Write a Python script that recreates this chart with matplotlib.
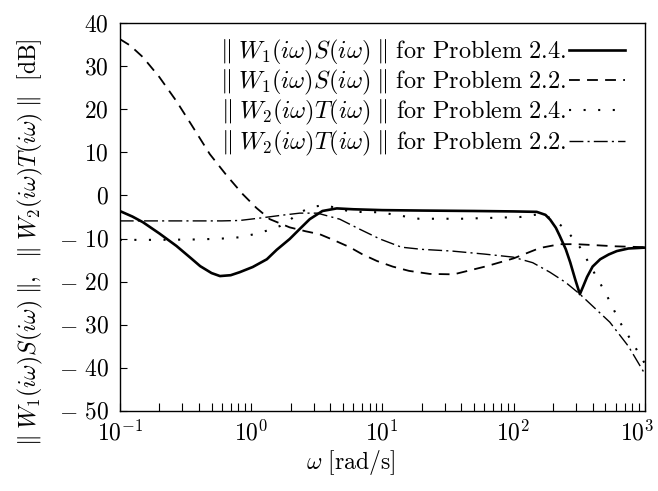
import numpy as np
import matplotlib
matplotlib.use("Agg")
import matplotlib.pyplot as plt
import matplotlib.transforms as mtransforms
from matplotlib.ticker import FuncFormatter, FixedLocator, LogLocator

plt.rcParams['font.family'] = ['Liberation Serif', 'DejaVu Serif']
plt.rcParams['mathtext.fontset'] = 'cm'

# ---- data ----
w_s24 = [0.1, 0.125, 0.15, 0.2, 0.27, 0.35, 0.41, 0.5, 0.58, 0.7, 0.82, 1.03, 1.32, 1.57, 1.97,
         2.4, 2.8, 3.5, 4.5, 6, 10, 20, 50, 100, 150, 175, 190, 210, 225, 250, 270, 295, 320,
         340, 363, 400, 457, 530, 612, 750, 1000]
db_s24 = [-3.6, -4.9, -6.2, -8.8, -11.7, -14.6, -16.4, -18.0, -18.7, -18.5, -17.8, -16.6, -14.8,
          -12.6, -10.1, -7.5, -5.5, -3.6, -3.0, -3.2, -3.4, -3.5, -3.6, -3.7, -3.8, -4.5, -5.6,
          -7.5, -9.4, -12.5, -15.5, -19.5, -22.9, -21.0, -18.9, -16.5, -14.8, -13.7, -12.9,
          -12.3, -12.1]

w_s22 = [0.1, 0.12, 0.15, 0.2, 0.27, 0.35, 0.485, 0.65, 0.865, 1.1, 1.39, 1.97, 2.6, 3.34, 4.3,
         5.65, 7, 9.1, 12, 16, 23, 35, 62.5, 100, 158, 225, 300, 400, 600, 1000]
db_s22 = [36.3, 34.8, 32.1, 27.5, 21.9, 16.5, 9.6, 4.7, 0.3, -2.9, -5.5, -7.4, -8.3, -9.0, -10.4,
          -12.0, -13.6, -15.2, -16.5, -17.5, -18.2, -18.3, -16.4, -14.6, -12.2, -11.3, -11.3,
          -11.5, -11.8, -12.0]

w_t24 = [0.1, 0.2, 0.4, 0.6, 0.82, 1.17, 1.66, 2.0, 2.23, 2.7, 3.16, 3.7, 4.74, 6, 9.6, 19,
         40, 112, 160, 200, 251, 320, 380, 430, 500, 646, 800, 1000]
db_t24 = [-10.3, -10.3, -10.2, -10.0, -9.7, -8.7, -7.1, -5.6, -4.3, -3.1, -2.5, -2.2, -3.2, -3.8,
          -3.9, -5.4, -5.4, -5.0, -4.3, -5.5, -7.9, -12.0, -16.0, -19.0, -22.5, -29.4, -34.0,
          -39.0]

w_t22 = [0.1, 0.2, 0.4, 0.6, 0.82, 1.2, 1.7, 2.35, 3.2, 4.74, 6.7, 9.6, 14, 20, 34, 60, 99,
         140, 189, 250, 320, 541, 750, 1000]
db_t22 = [-5.9, -5.9, -5.9, -5.9, -5.8, -5.2, -4.6, -4.1, -4.1, -5.5, -7.8, -10.1, -12.0, -12.5,
          -12.9, -13.6, -14.3, -15.6, -17.8, -20.2, -22.9, -29.4, -35.0, -41.4]

labels = [r"$\Vert\; W_1(i\omega)S(i\omega)\;\Vert\ \mathrm{for\ Problem\ 2.4.}$",
          r"$\Vert\; W_1(i\omega)S(i\omega)\;\Vert\ \mathrm{for\ Problem\ 2.2.}$",
          r"$\Vert\; W_2(i\omega)T(i\omega)\;\Vert\ \mathrm{for\ Problem\ 2.4.}$",
          r"$\Vert\; W_2(i\omega)T(i\omega)\;\Vert\ \mathrm{for\ Problem\ 2.2.}$"]

yticks = [40, 30, 20, 10, 0, -10, -20, -30, -40, -50]
xticks = [0.1, 1, 10, 100, 1000]

fig = plt.figure(figsize=(6.58, 4.91), dpi=100)
ax = fig.add_axes([0.182, 0.163, 0.798, 0.790])

ax.semilogx(w_s24, db_s24, color='black', lw=1.9, ls='-', label=labels[0])
ax.semilogx(w_s22, db_s22, color='black', lw=1.3, ls=(0, (6, 4)), label=labels[1])
ax.semilogx(w_t24, db_t24, color='black', lw=1.5, ls=(0, (1, 6)), label=labels[2])
ax.semilogx(w_t22, db_t22, color='black', lw=1.0, ls=(0, (10, 3, 1.5, 3)), label=labels[3])

ax.set_xlim(0.1, 1000)
ax.set_ylim(-50, 40)
ax.yaxis.set_major_locator(FixedLocator(yticks))
ax.yaxis.set_major_formatter(FuncFormatter(
    lambda v, p: (r"$-\ %d$" % abs(v)) if v < 0 else r"$%d$" % v))
ax.xaxis.set_major_locator(FixedLocator(xticks))
ax.xaxis.set_minor_locator(LogLocator(base=10, subs=np.arange(2, 10), numticks=20))
ax.xaxis.set_major_formatter(FuncFormatter(lambda v, p: r"$10^{%d}$" % round(np.log10(v))))

ax.tick_params(axis='both', which='both', direction='in', top=False, right=False,
               labelsize=17)
ax.tick_params(axis='x', which='both', length=6, width=0.8, pad=7)
ax.tick_params(axis='y', which='major', length=5, width=0.8, pad=8)
for s in ax.spines.values():
    s.set_linewidth(1.0)

fig.canvas.draw()
for t in ax.xaxis.get_major_ticks():
    if abs(t.get_loc() - 1000) < 1:
        t.label1.set_horizontalalignment('right')
        t.label1.set_transform(t.label1.get_transform() +
                               mtransforms.ScaledTranslation(9 / 100, 0, fig.dpi_scale_trans))

ax.set_xlabel(r"$\omega\ \mathrm{[rad/s]}$", fontsize=17)
ax.xaxis.set_label_coords(0.44, -0.095)
ax.set_ylabel(r"$\Vert\; W_1(i\omega)S(i\omega)\;\Vert,\ \ \Vert\; W_2(i\omega)T(i\omega)\;\Vert\ \ \mathrm{[dB]}$",
              fontsize=17)
ax.yaxis.set_label_coords(-0.142, 0.435)

ax.legend(loc='upper right', bbox_to_anchor=(0.99, 1.0), frameon=False, markerfirst=False,
          fontsize=17.5, handlelength=2.3, handletextpad=0.1, labelspacing=0.05,
          borderaxespad=0.2)

fig.savefig("out.png", dpi=100)
